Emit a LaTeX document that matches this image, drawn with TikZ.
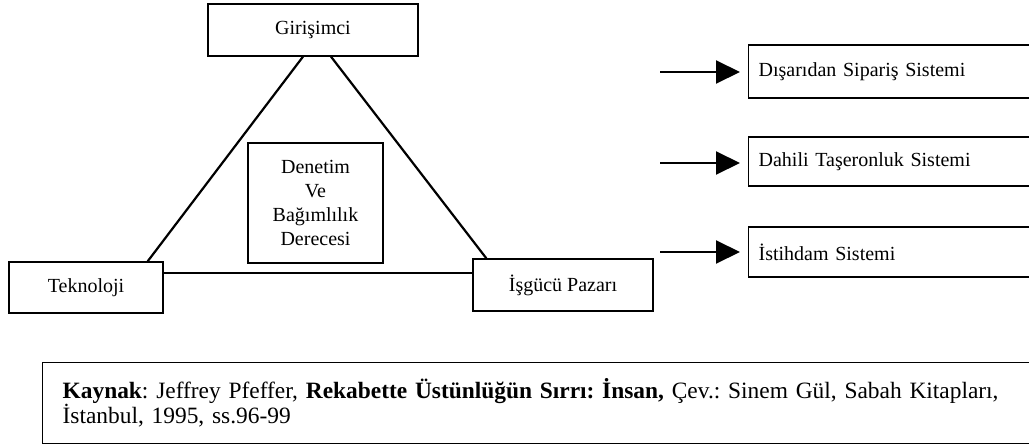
\documentclass[tikz,border=0pt]{standalone}
\usepackage{fontspec}
\setmainfont{Liberation Serif}
\usetikzlibrary{arrows.meta,positioning,calc}
\frenchspacing
\tikzset{>={Triangle[length=24pt,width=23pt]},
	cbox/.style={draw,line width=1.3pt,inner sep=0pt,font=\fontsize{20}{24}\selectfont},
	sbox/.style={cbox,anchor=west,minimum width=320pt,text width=300pt,align=left,inner xsep=10pt},
	srcbox/.style={draw,line width=1.3pt,anchor=north west,minimum height=81pt,text width=1000pt,inner xsep=20pt,align=left,font=\fontsize{23.4}{25}\selectfont},
	link/.style={line width=2.2pt},
	pointer/.style={line width=2pt,->,shorten >=8pt}}

\begin{document}
\begin{tikzpicture}[x=1pt,y=-1pt]
	\useasboundingbox (0,0) rectangle (1029,447);
	% triangle
	\node (gir) at (313,30) [cbox,minimum width=210pt,minimum height=52pt] {Girişimci};
	\node (den) at (315.5,203) [cbox,minimum width=135pt,minimum height=120pt,align=center] {Denetim\\Ve\\Bağımlılık\\Derecesi};
	\node (tek) at (86,287.5) [cbox,minimum width=154pt,minimum height=51pt] {Teknoloji};
	\node (isg) at (563,285) [cbox,minimum width=180pt,minimum height=52pt] {İşgücü Pazarı};
	\coordinate (h) at ([yshift=14.5pt]tek.east);
	\draw [link] ([xshift=-16pt]tek.north east) -- ([xshift=-10pt]gir.south);
	\draw [link] ([xshift=18pt]gir.south) -- ([xshift=14pt]isg.north west);
	\draw [link] (h) -- (h -| isg.west);
	% systems
	\node (dis) at (748,71.5) [sbox,minimum height=53pt] {Dışarıdan Sipariş Sistemi};
	\node (dah) at (748,161.5) [sbox,minimum height=49pt] {Dahili Taşeronluk Sistemi};
	\node (ist) at (748,252) [sbox,minimum height=50pt] {İstihdam Sistemi};
	\coordinate (p1) at (660,72);
	\coordinate (p2) at (660,163);
	\coordinate (p3) at (660,252);
	\draw [pointer] (p1) -- (p1 -| dis.west);
	\draw [pointer] (p2) -- (p2 -| dah.west);
	\draw [pointer] (p3) -- (p3 -| ist.west);
	% source
	\node (src) at (42,362) [srcbox] {\textbf{Kaynak}: Jeffrey Pfeffer, \textbf{Rekabette Üstünlüğün Sırrı: İnsan,} Çev.: Sinem Gül, Sabah Kitapları,\\İstanbul, 1995, ss.96-99};
\end{tikzpicture}
\end{document}
